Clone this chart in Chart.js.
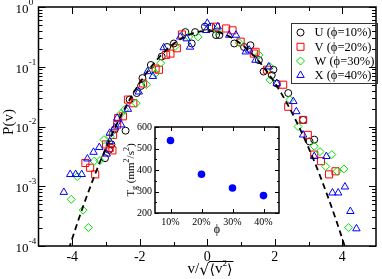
<!DOCTYPE html>
<html><head><meta charset="utf-8">
<script src="https://cdn.jsdelivr.net/npm/chart.js@4/dist/chart.umd.min.js"></script>
<style>
html,body{margin:0;padding:0;background:#fff;}
#wrap{position:relative;width:382px;height:279px;overflow:hidden;}
canvas{position:absolute;}
</style></head>
<body><div id="wrap">
<canvas id="main" width="382" height="279" style="left:0;top:0;"></canvas>
<canvas id="inset" width="165" height="125" style="left:120px;top:118px;"></canvas>
</div>
<script>
// ---------- data ----------
const xTicks = [-4,-2,0,2,4];
const xMinorTicks = [-3,-1,1,3];
const yDecades = [0,-1,-2,-3,-4];

const seriesNames = ['U (\u03D5=10%)','V (\u03D5=20%)','W (\u03D5=30%)','X (\u03D5=40%)'];

const U_x = [-3.03,-2.91,-2.84,-2.74,-2.42,-2.30,-2.09,-1.96,-1.92,-1.67,-1.35,-1.19,-0.99,-0.65,-0.46,-0.36,-0.07,0.12,0.26,0.36,0.80,1.09,1.28,1.53,1.67,1.91,1.96,2.06,2.40,2.84,3.03,3.17];
const U_y = [2.95e-3,4.07e-3,5.01e-3,8.91e-3,8.51e-3,2.82e-2,3.63e-2,4.79e-2,6.46e-2,0.107,0.148,0.214,0.245,0.380,0.245,0.380,0.468,0.468,0.339,0.339,0.245,0.214,0.229,0.129,8.32e-2,7.24e-2,8.91e-2,5.25e-2,3.63e-2,1.29e-2,5.62e-3,6.03e-3];

const V_x = [-3.61,-3.47,-3.32,-3.00,-2.89,-2.81,-2.79,-2.67,-2.64,-2.50,-2.35,-2.19,-1.90,-1.53,-1.43,-1.22,-1.09,-0.90,-0.75,0.26,0.56,0.75,0.99,1.38,1.43,1.77,2.25,2.40,2.84,2.98,3.17,3.37,3.61,3.80];
const V_y = [2.45e-3,2.04e-3,1.58e-3,5.01e-3,4.37e-3,3.98e-3,7.24e-3,1.07e-2,1.38e-2,1.48e-2,2.82e-2,2.45e-2,5.25e-2,9.33e-2,8.91e-2,0.158,0.166,0.204,0.347,0.468,0.437,0.407,0.263,0.166,0.178,8.91e-2,5.01e-2,2.14e-2,1.29e-2,7.24e-3,3.39e-3,2.63e-3,1.58e-3,1.78e-3];

const W_x = [-4.03,-3.85,-3.68,-3.52,-3.35,-3.18,-3.06,-2.88,-2.55,-2.45,-2.11,-1.80,-1.63,-1.53,-1.38,-0.95,-0.55,-0.27,0.30,0.95,1.53,1.86,1.86,2.45,2.69,3.17,3.34,3.51,3.69,3.85,4.05,4.19];
const W_y = [6.03e-4,1.45e-3,3.98e-4,2.04e-4,2.63e-3,2.69e-3,6.03e-3,6.76e-3,1.66e-2,1.91e-2,2.45e-2,5.01e-2,8.91e-2,7.76e-2,0.115,0.219,0.316,0.316,0.398,0.251,0.158,6.03e-2,0.100,2.82e-2,1.00e-2,4.68e-3,3.80e-3,2.14e-3,3.39e-3,1.78e-3,1.95e-3,2.04e-4];

const X_x = [-4.25,-4.06,-3.90,-3.72,-3.55,-3.37,-3.20,-2.98,-2.89,-2.89,-2.74,-2.67,-2.55,-2.35,-2.03,-1.77,-1.61,-1.29,-0.80,-0.61,-0.51,0.00,-0.03,0.31,0.65,0.85,1.14,1.24,1.43,1.82,2.06,2.55,2.64,2.84,3.17,3.53,3.71,3.88,4.08,4.24,4.42];
const X_y = [7.94e-4,1.58e-3,1.58e-3,1.58e-3,2.88e-3,3.72e-3,4.47e-3,3.47e-3,5.62e-3,7.76e-3,9.55e-3,1.38e-2,1.07e-2,1.95e-2,3.80e-2,8.32e-2,6.92e-2,0.209,0.316,0.295,0.214,0.537,0.407,0.468,0.339,0.339,0.178,0.191,0.129,0.100,5.25e-2,2.63e-2,1.78e-2,7.24e-3,3.16e-3,3.16e-3,7.76e-4,7.76e-4,9.77e-4,3.80e-4,1.95e-4];

const gauss_x = [-4.1,-4.0,-3.8,-3.6,-3.4,-3.2,-3.0,-2.8,-2.6,-2.4,-2.2,-2.0,-1.8,-1.6,-1.4,-1.2,-1.0,-0.8,-0.6,-0.4,-0.2,0,0.2,0.4,0.6,0.8,1.0,1.2,1.4,1.6,1.8,2.0,2.2,2.4,2.6,2.8,3.0,3.2,3.4,3.6,3.8,4.0,4.1];
const gauss_y = [8.92e-5,1.338e-4,2.92e-4,6.12e-4,1.232e-3,2.384e-3,4.43e-3,7.92e-3,1.358e-2,2.24e-2,3.55e-2,5.40e-2,7.90e-2,0.1109,0.1497,0.1942,0.2420,0.2897,0.3332,0.3683,0.3910,0.3989,0.3910,0.3683,0.3332,0.2897,0.2420,0.1942,0.1497,0.1109,7.90e-2,5.40e-2,3.55e-2,2.24e-2,1.358e-2,7.92e-3,4.43e-3,2.384e-3,1.232e-3,6.12e-4,2.92e-4,1.338e-4,8.92e-5];

// inset
const phiValues = [10,20,30,40];
const phiLabels = ['10%','20%','30%','40%'];
const TgValues = [537,380,316,281];
const insetYTicks = [200,300,400,500,600];
const insetYMinor = [250,350,450,550];

// ---------- helpers ----------
const zip = (xs, ys) => xs.map((x, i) => ({x: x, y: ys[i]}));
const SERIF = '"Liberation Serif","Times New Roman",serif';
const colors = ['#000000','#ff0000','#00e000','#0000ff'];
const styles = ['circle','rect','rectRot','triangle'];
const radii = [3.5,5,4,4.3];

function marker(ctx, style, x, y, color){
  ctx.save(); ctx.strokeStyle = color; ctx.lineWidth = 1; ctx.beginPath();
  if (style === 'circle') { ctx.arc(x, y, 3.5, 0, Math.PI*2); }
  else if (style === 'rect') { const s = 3.5; ctx.rect(x-s, y-s, 2*s, 2*s); }
  else if (style === 'rectRot') { const r = 4; ctx.moveTo(x-r,y); ctx.lineTo(x,y-r); ctx.lineTo(x+r,y); ctx.lineTo(x,y+r); ctx.closePath(); }
  else { const r = 4.3; ctx.moveTo(x, y-r); ctx.lineTo(x+r*0.866, y+r/2); ctx.lineTo(x-r*0.866, y+r/2); ctx.closePath(); }
  ctx.stroke(); ctx.restore();
}

function drawFrameAndTicks(ctx, ca, xs, ys, xMaj, xMin, yMaj, yMin, lMaj, lMin, lw){
  ctx.save();
  ctx.strokeStyle = '#000'; ctx.lineWidth = 1;
  ctx.beginPath();
  const tick = (vals, len, isX) => vals.forEach(v => {
    if (isX) {
      const p = Math.round(xs.getPixelForValue(v)) + 0.5;
      ctx.moveTo(p, ca.bottom); ctx.lineTo(p, ca.bottom - len);
      ctx.moveTo(p, ca.top); ctx.lineTo(p, ca.top + len);
    } else {
      const p = Math.round(ys.getPixelForValue(v)) + 0.5;
      ctx.moveTo(ca.left, p); ctx.lineTo(ca.left + len, p);
      ctx.moveTo(ca.right, p); ctx.lineTo(ca.right - len, p);
    }
  });
  tick(xMaj, lMaj, true); tick(xMin, lMin, true);
  tick(yMaj, lMaj, false); tick(yMin, lMin, false);
  ctx.stroke();
  ctx.lineWidth = lw;
  ctx.strokeRect(ca.left, ca.top, ca.right - ca.left, ca.bottom - ca.top);
  ctx.restore();
}

// ---------- main chart ----------
const yMajorVals = yDecades.map(e => Math.pow(10, e));
const yMinorVals = [];
yDecades.forEach(e => { if (e < 0) for (let m = 2; m <= 9; m++) yMinorVals.push(m * Math.pow(10, e)); });

const mainDecor = {
  id: 'mainDecor',
  afterDraw(chart){
    const ctx = chart.ctx, ca = chart.chartArea;
    const xs = chart.scales.x, ys = chart.scales.y;
    drawFrameAndTicks(ctx, ca, xs, ys, xTicks, xMinorTicks, yMajorVals, yMinorVals, 7, 4, 1.5);
    ctx.save();
    ctx.fillStyle = '#000';
    // y tick labels 10^n
    yDecades.forEach(e => {
      const p = ys.getPixelForValue(Math.pow(10, e));
      ctx.font = '13px ' + SERIF; ctx.textAlign = 'right'; ctx.textBaseline = 'middle';
      ctx.fillText('10', 28.5, p + 2.5);
      ctx.font = '9px ' + SERIF; ctx.textAlign = 'left';
      ctx.fillText(String(e), 28.8, p - 4.5);
    });
    // y title
    ctx.save();
    ctx.translate(9, 122); ctx.rotate(-Math.PI/2);
    ctx.font = '15px ' + SERIF; ctx.textAlign = 'center'; ctx.textBaseline = 'middle';
    ctx.fillText('P(v)', 0, 0);
    ctx.restore();
    // x title  v/sqrt(<v^2>)
    const base = 273;
    ctx.textAlign = 'left'; ctx.textBaseline = 'alphabetic';
    const f1 = '15px ' + SERIF, fs = '9px ' + SERIF, fr = '16px "DejaVu Sans",sans-serif', fb = '14px "DejaVu Sans",sans-serif';
    ctx.font = f1; const wV = ctx.measureText('v/').width; const wv = ctx.measureText('v').width;
    ctx.font = fr; const wR = ctx.measureText('\u221A').width;
    ctx.font = fb; const wL = ctx.measureText('\u27E8').width; const wRb = ctx.measureText('\u27E9').width;
    ctx.font = fs; const w2 = ctx.measureText('2').width;
    const total = wV + wR + wL + wv + w2 + wRb;
    let x0 = 210 - total/2;
    ctx.font = f1; ctx.fillText('v/', x0, base); x0 += wV;
    ctx.font = fr; ctx.fillText('\u221A', x0, base + 2); x0 += wR;
    const barStart = x0 - 0.5;
    ctx.font = fb; ctx.fillText('\u27E8', x0, base + 1); x0 += wL;
    ctx.font = f1; ctx.fillText('v', x0, base); x0 += wv;
    ctx.font = fs; ctx.fillText('2', x0, base - 7); x0 += w2;
    ctx.font = fb; ctx.fillText('\u27E9', x0, base + 1); x0 += wRb;
    ctx.lineWidth = 1; ctx.beginPath(); ctx.moveTo(barStart, 261.5); ctx.lineTo(x0 + 1, 261.5); ctx.stroke();
    // legend
    ctx.strokeStyle = '#333'; ctx.lineWidth = 1;
    ctx.strokeRect(291.5, 23.5, 86, 60);
    const rows = [32.5, 46.8, 61, 75.3];
    ctx.font = '12.5px ' + SERIF; ctx.textAlign = 'left'; ctx.textBaseline = 'middle';
    seriesNames.forEach((n, i) => {
      marker(ctx, styles[i], 300.5, rows[i], colors[i]);
      ctx.fillStyle = '#000';
      ctx.fillText(n, 314.5, rows[i] + 0.5);
    });
    ctx.restore();
  }
};

const mkSet = (xs, ys, i) => ({
  label: seriesNames[i], data: zip(xs, ys), showLine: false,
  pointStyle: styles[i], pointRadius: radii[i], pointHoverRadius: radii[i],
  pointBorderColor: colors[i], pointBackgroundColor: 'rgba(0,0,0,0)', pointBorderWidth: 1,
  order: 4 - i
});

new Chart(document.getElementById('main'), {
  type: 'scatter',
  data: { datasets: [
    { label: 'Gaussian', data: zip(gauss_x, gauss_y), showLine: true, pointRadius: 0,
      borderColor: '#000', borderWidth: 1.8, borderDash: [6, 4], fill: false, order: 0 },
    mkSet(X_x, X_y, 3), mkSet(W_x, W_y, 2), mkSet(V_x, V_y, 1), mkSet(U_x, U_y, 0)
  ]},
  options: {
    responsive: false, animation: false, devicePixelRatio: 1,
    layout: { padding: { top: 7, right: 2, left: 0, bottom: 0 } },
    plugins: { legend: { display: false }, tooltip: { enabled: false } },
    scales: {
      x: { type: 'linear', min: -5, max: 5,
        grid: { display: false, drawTicks: false }, border: { display: false },
        afterBuildTicks: s => { s.ticks = xTicks.map(v => ({ value: v })); },
        afterFit: s => { s.height = 33; },
        ticks: { font: { family: SERIF, size: 14 }, color: '#000', padding: 3, maxRotation: 0,
          callback: v => String(v) } },
      y: { type: 'logarithmic', min: 1e-4, max: 1,
        grid: { display: false, drawTicks: false }, border: { display: false },
        ticks: { display: false },
        afterFit: s => { s.width = 38.5; } }
    }
  },
  plugins: [mainDecor]
});

// ---------- inset ----------
const insetDecor = {
  id: 'insetDecor',
  afterDraw(chart){
    const ctx = chart.ctx, ca = chart.chartArea;
    drawFrameAndTicks(ctx, ca, chart.scales.x, chart.scales.y, phiValues, [], insetYTicks, insetYMinor, 4, 2, 1.5);
    ctx.save(); ctx.fillStyle = '#000';
    // x title
    ctx.font = '12px ' + SERIF; ctx.textAlign = 'center'; ctx.textBaseline = 'middle';
    ctx.fillText('\u03D5', (ca.left + ca.right)/2, 112);
    // y title  T_g (mm^2/s^2)
    const parts = [['T','n'],['g','sub'],[' (mm','n'],['2','sup'],['/s','n'],['2','sup'],[')','n']];
    const fN = '11px ' + SERIF, fS = '8px ' + SERIF;
    let total = 0;
    parts.forEach(p => { ctx.font = p[1] === 'n' ? fN : fS; p.push(ctx.measureText(p[0]).width); total += p[2]; });
    ctx.translate(10, (ca.top + ca.bottom)/2); ctx.rotate(-Math.PI/2);
    ctx.textAlign = 'left'; ctx.textBaseline = 'alphabetic';
    let x = -total/2;
    parts.forEach(p => {
      ctx.font = p[1] === 'n' ? fN : fS;
      const dy = p[1] === 'sub' ? 6.5 : (p[1] === 'sup' ? -1 : 3.5);
      ctx.fillText(p[0], x, dy); x += p[2];
    });
    ctx.restore();
  }
};

new Chart(document.getElementById('inset'), {
  type: 'scatter',
  data: { datasets: [{ label: 'Tg', data: zip(phiValues, TgValues), showLine: false,
    pointStyle: 'circle', pointRadius: 3.8, pointHoverRadius: 3.8,
    pointBackgroundColor: '#0000ff', pointBorderColor: '#0000ff', pointBorderWidth: 0 }] },
  options: {
    responsive: false, animation: false, devicePixelRatio: 1,
    layout: { padding: { top: 8, right: 6, left: 0, bottom: 0 } },
    plugins: { legend: { display: false }, tooltip: { enabled: false } },
    scales: {
      x: { type: 'linear', min: 5, max: 45,
        grid: { display: false, drawTicks: false }, border: { display: false },
        afterBuildTicks: s => { s.ticks = phiValues.map(v => ({ value: v })); },
        afterFit: s => { s.height = 30; },
        ticks: { font: { family: SERIF, size: 10 }, color: '#000', padding: 3, maxRotation: 0,
          callback: (v) => phiLabels[phiValues.indexOf(v)] } },
      y: { type: 'linear', min: 200, max: 600,
        grid: { display: false, drawTicks: false }, border: { display: false },
        afterBuildTicks: s => { s.ticks = insetYTicks.map(v => ({ value: v })); },
        afterFit: s => { s.width = 35; },
        ticks: { font: { family: SERIF, size: 10 }, color: '#000', padding: 3,
          callback: v => String(v) } }
    }
  },
  plugins: [insetDecor]
});
</script>
</body></html>
